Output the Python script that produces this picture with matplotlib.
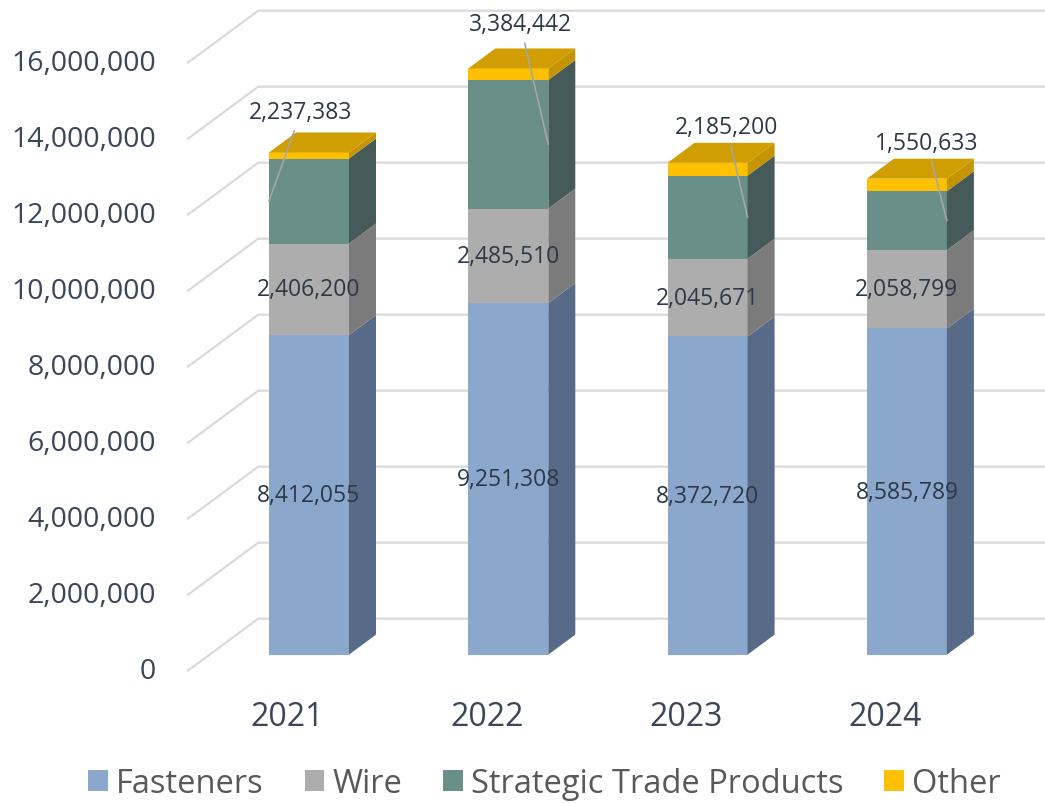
import matplotlib.pyplot as plt
from matplotlib.patches import Polygon, Patch

plt.rcParams['font.family'] = ['Open Sans', 'DejaVu Sans']

# data
years = ['2021', '2022', '2023', '2024']
fasteners = [8412055, 9251308, 8372720, 8585789]
wire = [2406200, 2485510, 2045671, 2058799]
strategic = [2237383, 3384442, 2185200, 1550633]
other = [160000, 305000, 340000, 330000]
yticks = list(range(0, 16000001, 2000000))

# name, values, front colour, side colour, top colour
series = [
    ('Fasteners', fasteners, '#8BA7CB', '#576B88', '#6F88A8'),
    ('Wire', wire, '#ADADAD', '#7B7B7B', '#939393'),
    ('Strategic Trade Products', strategic, '#6A8E88', '#465A5A', '#55716C'),
    ('Other', other, '#FFC000', '#C49500', '#D09E00'),
]

# fake 3d geometry (category units / value units)
W = 0.4014          # bar front width
DX = 0.1355         # depth offset in x
DY = 0.526e6        # depth offset in y
X_LEFT = -0.607     # front-left end of gridlines
X_RIGHT = 3.693

fig = plt.figure(figsize=(10.45, 8.04), dpi=100)
ax = fig.add_axes([0, 0, 1, 1])
ax.set_xlim(-1.5504, X_RIGHT)
ax.set_ylim(-3.974e6 + 0.07e6, 17.184e6 + 0.07e6)
ax.axis('off')

# gridlines: floor diagonal then along back wall
for t in yticks:
    ax.plot([X_LEFT, X_LEFT + 2.6 * DX, X_RIGHT],
            [t - 0.8 * DY, t + 1.8 * DY, t + 1.8 * DY],
            color='#D9D9D9', lw=1.6, zorder=0, solid_joinstyle='miter')
    ax.text(-0.768, t - 0.8 * DY, f'{t:,}', ha='right', va='center',
            fontsize=20.5, color='#3B4658')

# stacked bars with side and top faces
x = list(range(len(years)))
bottoms = [0] * len(years)
for k, (name, vals, front, side, top) in enumerate(series):
    ax.bar(x, vals, width=W, bottom=bottoms, color=front, zorder=2)
    for i in x:
        b, h = bottoms[i], vals[i]
        r = i + W / 2
        ax.add_patch(Polygon([(r, b), (r + DX, b + DY), (r + DX, b + h + DY), (r, b + h)],
                             closed=True, facecolor=side, edgecolor='none', zorder=2))
        if k == len(series) - 1:
            tp = b + h
            ax.add_patch(Polygon([(i - W / 2, tp), (r, tp), (r + DX, tp + DY), (i - W / 2 + DX, tp + DY)],
                                 closed=True, facecolor=top, edgecolor='none', zorder=2))
    bottoms = [bottoms[i] + vals[i] for i in x]

# data labels
for i in x:
    ax.text(i, fasteners[i] / 2, f'{fasteners[i]:,}', ha='center', va='center',
            fontsize=16.5, color='#2E3848', zorder=3)
    ax.text(i, fasteners[i] + wire[i] / 2, f'{wire[i]:,}', ha='center', va='center',
            fontsize=16.5, color='#2E3848', zorder=3)

# strategic labels sit above the bars with leader lines
lead_side = [-1, 1, 1, 1]
lead_off = [(32, 89), (-28, 120), (-21, 90), (-20, 78)]
for i in x:
    mid = fasteners[i] + wire[i] + strategic[i] / 2
    ax.annotate(f'{strategic[i]:,}', xy=(i + lead_side[i] * W / 2, mid),
                xytext=lead_off[i], textcoords='offset pixels',
                ha='center', va='center', fontsize=16.5, color='#2E3848',
                arrowprops=dict(arrowstyle='-', color='#A6A6A6', lw=1.2,
                                shrinkA=3, shrinkB=0),
                zorder=4)

# category labels on the front edge
for i in x:
    ax.text(i - 0.8 * DX, -1.632e6, years[i], ha='center', va='center',
            fontsize=23, color='#3B4658')

handles = [Patch(facecolor=s[2], edgecolor='none', label=s[0]) for s in series]
fig.legend(handles=handles, loc='center', bbox_to_anchor=(0.521, 0.024), ncol=4,
           frameon=False, fontsize=23.5, labelcolor='#595959',
           handlelength=0.6, handleheight=0.6, handletextpad=0.25, columnspacing=1.25)

fig.savefig('out.png', dpi=100)
